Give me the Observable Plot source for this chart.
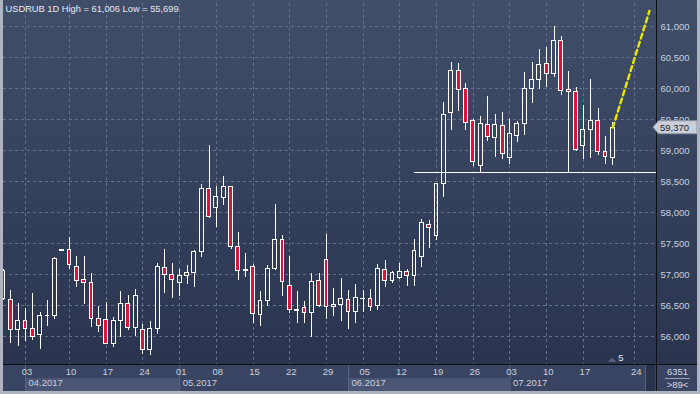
<!DOCTYPE html>
<html>
<head>
<meta charset="utf-8">
<script src="https://cdn.jsdelivr.net/npm/d3@7"></script>
<script src="https://cdn.jsdelivr.net/npm/@observablehq/plot@0.6"></script>
<style>
  html, body { margin: 0; padding: 0; background: #aeb5c0; }
  #chart {
    position: relative; width: 700px; height: 394px; overflow: hidden;
    background: linear-gradient(to bottom, #414e69 0px, #35415d 180px, #2a344f 364px, #384461 364px, #384461 391px, #aeb5c0 391px);
    font-family: "Liberation Sans", Arial, sans-serif;
  }
  #chart svg { position: absolute; left: 0; top: 0; }
  #border {
    position: absolute; left: 0; top: 0; width: 700px; height: 394px; box-sizing: border-box;
    border-left: 3px solid #aeb5c0; border-right: 3px solid #aeb5c0; border-bottom: 3px solid #aeb5c0;
    pointer-events: none;
  }
</style>
</head>
<body>
<div id="chart"><div id="border"></div></div>
<script>
// ---- data (USDRUB daily candles, index 0 = 29 Mar 2017 ... index 83 = 21 Jul 2017) ----
const titleText = "USDRUB 1D High = 61,006 Low = 55,699";
const open  = [57055,56598,56105,56250,56132,56035,56335,56330,57390,57393,57135,56920,56872,56292,56276,55890,56250,56534,56148,56115,55793,56132,57114,57001,56867,56985,57028,57371,58385,58074,58241,58418,57452,57065,57130,56357,56577,57092,57564,56824,56420,56470,56389,56904,57242,56485,56518,56598,56400,56605,56614,56496,57081,56899,56947,57049,56979,57285,57811,57623,58466,59609,60285,59996,59470,58750,59416,59207,59400,58885,59233,59432,59996,60140,60398,60237,60768,59979,59947,59078,59335,59486,58981,58885];
const high  = [57080,56749,56534,56459,56695,56400,56588,57285,57398,57597,57296,57296,57017,56491,56561,56319,56738,56673,56765,56201,56255,57178,57409,57189,57081,57151,57393,58455,59083,58423,58584,58430,57682,57339,57167,56727,57151,58133,57634,57296,56733,56572,57017,57017,57650,56781,56942,56749,56845,56749,56765,57167,57232,57055,57183,57081,57564,57892,57876,58470,59781,60419,60403,60081,59502,59550,59872,59582,59614,59496,59475,60264,60419,60623,60656,61006,60838,60275,60022,59727,60140,59674,59223,59448];
const low   = [56590,55901,55852,55933,55944,55794,56169,56276,57388,57081,56802,56523,56158,56078,55874,55836,55997,56105,56013,55710,55699,56040,56706,56614,56652,56845,56802,57285,57913,57768,58117,57403,56910,56963,56212,56174,56496,57076,56657,56373,56212,56212,55987,56480,56287,56335,56255,56115,56223,56400,56416,56432,56802,56867,56920,56813,56813,57124,57430,57554,58241,59330,59636,59325,58750,58643,59153,58895,58863,58777,59137,59244,59765,59979,60022,60183,59888,58643,58992,58863,58879,58917,58777,58766];
const close = [56615,56105,56250,56126,55997,56341,56345,57259,57395,57162,56899,56872,56292,56174,55890,56260,56534,56148,56663,55793,56132,57135,57001,56920,56985,57033,57371,58385,57929,58257,58418,57446,57065,57081,56373,56582,57097,57564,56883,56437,56430,56389,56888,56496,56485,56523,56614,56400,56631,56614,56480,57087,56899,57033,57049,56979,57387,57838,57752,58466,59577,60285,59979,59448,58815,59432,59217,59416,58949,59271,59432,59996,60140,60382,60237,60768,59963,59947,59013,59335,59486,58981,58901,59370];

// x-axis tick labels (candle index -> day of month); index 86 = 24 Jul (future, calendar days)
const dayTickIndex = [3, 9, 14, 19, 24, 29, 34, 39, 44, 49, 54, 59, 64, 69, 74, 79, 86];
const dayTickLabel = ["03","10","17","24","01","08","15","22","29","05","12","19","26","03","10","17","24"];
const monthStart = [3, 24, 47, 69];
const monthEnd   = [24, 47, 69, 87.3];
const monthLabel = ["04.2017", "05.2017", "06.2017", "07.2017"];
const priceTicks = [56000, 56500, 57000, 57500, 58000, 58500, 59000, 59500, 60000, 60500, 61000];

const supportLevel = [58643];
const supportFrom = [56];
const trendIndex = [83, 88];
const trendPrice = [59370, 61250];
const markerIndex = 83;
const markerText = "5";
const statTop = "6351";
const statBottom = ">89<";

// ---- build tables ----
const candles = open.map((o, i) => ({i, o, h: high[i], l: low[i], c: close[i]}));
const months = monthLabel.map((label, k) => ({label, start: monthStart[k], end: monthEnd[k], k}));
const xMax = 88.96;
const support = supportLevel.map((p, k) => ({price: p, from: supportFrom[k], to: xMax}));
const trend = trendIndex.map((x, k) => ({x, p: trendPrice[k]}));
const lastClose = close[close.length - 1];
const fmt = d3.format(",");
const labelFor = new Map(dayTickIndex.map((d, k) => [d, dayTickLabel[k]]));

const axisColor = "#c9d1df";
const gridColor = "#63718d";

function priceTag(index, scales, values, dims) {
  const y = scales.y(lastClose);
  const xr = dims.width - dims.marginRight;
  const g = d3.create("svg:g").attr("text-anchor", "start");
  g.append("path")
    .attr("d", `M${xr - 3},${y} L${xr + 2.5},${y - 6.5} H${dims.width - 3} V${y + 6.5} H${xr + 2.5} Z`)
    .attr("fill", "#cacfd7").attr("stroke", "#8d96a7");
  g.append("text").attr("x", xr + 4).attr("y", y).attr("dy", "0.36em").attr("text-anchor", "start")
    .attr("fill", "#1c2333").attr("font-size", 9.5).text(fmt(lastClose));
  return g.node();
}

function decor(index, scales, values, dims) {
  const W = dims.width, H = dims.height;
  const yb = H - dims.marginBottom;
  const xr = W - dims.marginRight;
  const g = d3.create("svg:g");
  // scrollbar block
  g.append("rect").attr("x", 645).attr("y", yb + 1).attr("width", 10).attr("height", 26).attr("fill", "#29334b");
  g.append("line").attr("x1", 645.5).attr("x2", 645.5).attr("y1", yb + 1).attr("y2", yb + 27).attr("stroke", "#56627d");
  // frame lines
  g.append("line").attr("x1", 3).attr("x2", W - 3).attr("y1", yb + 0.5).attr("y2", yb + 0.5).attr("stroke", "#0b0f18");
  g.append("line").attr("x1", xr + 0.5).attr("x2", xr + 0.5).attr("y1", 0).attr("y2", H - 3).attr("stroke", "#0b0f18");
  // right-bottom stats box
  const cx = (xr + W - 3) / 2 + 1;
  g.append("text").attr("x", cx).attr("y", yb + 7.5).attr("dy", "0.36em").attr("text-anchor", "middle")
    .attr("fill", "#d3d9e4").attr("font-size", 9.5).text(statTop);
  g.append("line").attr("x1", xr + 9).attr("x2", W - 10).attr("y1", yb + 14.5).attr("y2", yb + 14.5).attr("stroke", "#9aa3b5");
  g.append("text").attr("x", cx).attr("y", yb + 21).attr("dy", "0.36em").attr("text-anchor", "middle")
    .attr("fill", "#d3d9e4").attr("font-size", 9.5).text(statBottom);
  // small marker under the last candle
  const mx = scales.x(markerIndex);
  g.append("path").attr("d", `M${mx - 4.5},${yb - 2} L${mx},${yb - 6.5} L${mx + 4.5},${yb - 2} Z`).attr("fill", "#56627e");
  g.append("text").attr("x", mx + 6).attr("y", yb - 6).attr("dy", "0.36em").attr("text-anchor", "start")
    .attr("fill", "#e4e9f1").attr("font-size", 9.5).text(markerText);
  return g.node();
}

const chart = Plot.plot({
  width: 700,
  height: 394,
  marginTop: 3,
  marginRight: 44,
  marginBottom: 30,
  marginLeft: 3,
  x: {domain: [0, xMax]},
  y: {domain: [55557, 61370]},
  style: {background: "transparent", fontFamily: "'Liberation Sans', Arial, sans-serif", fontSize: "9.5px", color: axisColor, overflow: "visible"},
  marks: [
    // month bands in the bottom strip
    Plot.rect(months.filter(d => d.k % 2 === 0), {x1: "start", x2: "end", insetTop: 375, insetBottom: -27, fill: "#4a5674"}),
    Plot.ruleX(months, {x: "start", insetTop: 362, insetBottom: -27, stroke: "#5a6682"}),
    // grid
    Plot.gridY({ticks: priceTicks, stroke: gridColor, strokeOpacity: 1, strokeDasharray: "3,3", shapeRendering: "crispEdges"}),
    Plot.gridX({ticks: dayTickIndex, stroke: gridColor, strokeOpacity: 1, strokeDasharray: "3,3", shapeRendering: "crispEdges"}),
    // support line
    Plot.ruleY(support, {y: "price", x1: "from", x2: "to", stroke: "#ffffff", strokeWidth: 1.2, shapeRendering: "crispEdges"}),
    // wicks
    Plot.ruleX(candles, {x: "i", y1: d => Math.max(d.o, d.c), y2: "h", stroke: "#ffffff", clip: true, shapeRendering: "crispEdges"}),
    Plot.ruleX(candles, {x: "i", y1: d => Math.min(d.o, d.c), y2: "l", stroke: "#ffffff", clip: true, shapeRendering: "crispEdges"}),
    // bodies
    Plot.rect(candles.filter(d => d.c >= d.o), {x1: d => d.i - 0.26, x2: d => d.i + 0.26, y1: "o", y2: "c", fill: "none", stroke: "#ffffff", strokeWidth: 1, clip: true, shapeRendering: "crispEdges"}),
    Plot.rect(candles.filter(d => d.c < d.o), {x1: d => d.i - 0.26, x2: d => d.i + 0.26, y1: "o", y2: "c", fill: "#dc143c", stroke: "#ffffff", strokeWidth: 1, clip: true, shapeRendering: "crispEdges"}),
    // projected trend
    Plot.line(trend, {x: "x", y: "p", stroke: "#e9e900", strokeWidth: 2.4, strokeDasharray: "5,3.5"}),
    // axes
    Plot.axisY({anchor: "right", ticks: priceTicks, tickFormat: fmt, tickSize: 0, tickPadding: 4, fill: axisColor, label: null}),
    Plot.axisX({anchor: "bottom", ticks: dayTickIndex, tickFormat: d => labelFor.get(d), tickSize: 0, tickPadding: 4, dx: 1.5, fill: axisColor, label: null}),
    Plot.text(months, {x: "start", text: "label", frameAnchor: "bottom", dy: 21, dx: 3, textAnchor: "start", fill: axisColor}),
    // title
    Plot.text([titleText], {frameAnchor: "top-left", dx: 2, dy: 2, lineAnchor: "top", textAnchor: "start", fill: "#e6eaf1", fontSize: 9.3}),
    decor,
    priceTag
  ]
});
document.getElementById("chart").insertBefore(chart, document.getElementById("border"));
</script>
</body>
</html>
